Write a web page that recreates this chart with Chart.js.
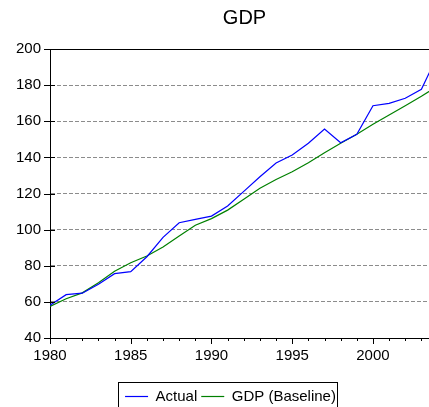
<!DOCTYPE html>
<html>
<head>
<meta charset="utf-8">
<script src="https://cdn.jsdelivr.net/npm/chart.js@4"></script>
<style>
  html, body { margin: 0; padding: 0; background: #fff; }
  #wrap { width: 429px; height: 407px; }
</style>
</head>
<body>
<div id="wrap"><canvas id="gdpchart"></canvas></div>
<script>
// data (last point lies just past the right edge)
const years = [1980, 1981, 1982, 1983, 1984, 1985, 1986, 1987, 1988, 1989, 1990, 1991,
  1992, 1993, 1994, 1995, 1996, 1997, 1998, 1999, 2000, 2001, 2002, 2003, 2004];
const actual = [58.2, 64.0, 64.8, 69.7, 75.6, 76.7, 85.0, 95.7, 103.8, 105.7, 107.5, 113.1,
  121.2, 129.3, 136.9, 141.3, 147.8, 155.7, 148.1, 152.8, 168.6, 169.9, 172.7, 177.7, 196.4];
const baseline = [57.5, 61.7, 65.0, 70.6, 77.0, 81.7, 85.4, 90.4, 96.5, 102.4, 106.1, 110.8,
  116.8, 122.9, 127.8, 132.0, 137.0, 142.6, 147.8, 152.8, 158.3, 163.5, 168.6, 173.8, 179.4];
const seriesNames = ['Actual', 'GDP (Baseline)'];
const chartTitle = 'GDP';

const FONT = 'Liberation Sans, Arial, sans-serif';

// the original was cropped on the right and bottom, so title and legend sit off centre
const frame = {
  id: 'frame',
  afterLayout(chart) {
    chart.titleBlock.left += 30; chart.titleBlock.right += 30;
    chart.legend.left += 16; chart.legend.right += 16;
  },
  afterDraw(chart) {
    const ctx = chart.ctx, ca = chart.chartArea;
    const xs = chart.scales.x, ys = chart.scales.y;
    ctx.save();
    ctx.strokeStyle = '#000';
    ctx.lineWidth = 1;
    ctx.beginPath();
    // top border
    ctx.moveTo(ca.left, Math.round(ca.top) + 0.5);
    ctx.lineTo(ca.right, Math.round(ca.top) + 0.5);
    // y ticks crossing the axis
    ys.ticks.forEach(t => {
      const y = Math.round(ys.getPixelForValue(t.value)) + 0.5;
      ctx.moveTo(ca.left - 6, y);
      ctx.lineTo(ca.left + 5, y);
    });
    // yearly ticks, longer every five years
    for (let yr = Math.ceil(xs.min); yr <= xs.max; yr++) {
      const x = Math.round(xs.getPixelForValue(yr)) + 0.5;
      ctx.moveTo(x, ca.bottom);
      ctx.lineTo(x, ca.bottom + (yr % 5 === 0 ? 6 : 3));
    }
    ctx.stroke();
    // legend frame
    const hb = chart.legend.legendHitBoxes;
    if (hb && hb.length) {
      const first = hb[0], last = hb[hb.length - 1];
      const l = Math.round(first.left - 7) + 0.5;
      const r = Math.round(last.left + last.width + 1) + 0.5;
      const t = Math.round(first.top - 7) + 0.5;
      const b = Math.round(first.top + first.height + 5) + 0.5;
      ctx.strokeRect(l, t, r - l, b - t);
    }
    ctx.restore();
  }
};

new Chart(document.getElementById('gdpchart'), {
  type: 'line',
  plugins: [frame],
  data: {
    labels: years,
    datasets: [
      {
        label: seriesNames[0],
        data: years.map((yr, i) => ({ x: yr, y: actual[i] })),
        borderColor: '#0000ff',
        backgroundColor: '#0000ff',
        borderWidth: 1.2,
        pointRadius: 0,
        tension: 0,
        fill: false,
      },
      {
        label: seriesNames[1],
        data: years.map((yr, i) => ({ x: yr, y: baseline[i] })),
        borderColor: '#008000',
        backgroundColor: '#008000',
        borderWidth: 1.2,
        pointRadius: 0,
        tension: 0,
        fill: false,
      }
    ]
  },
  options: {
    responsive: true,
    maintainAspectRatio: false,
    animation: false,
    layout: {
      padding: { left: 0, right: 0, top: 0, bottom: -7 }
    },
    plugins: {
      title: {
        display: true,
        text: chartTitle,
        color: '#000',
        font: { family: FONT, size: 20, weight: 'normal' },
        padding: { top: 6, bottom: 19 },
      },
      legend: {
        display: true,
        position: 'bottom',
        labels: {
          color: '#000',
          font: { family: FONT, size: 15 },
          usePointStyle: true,
          pointStyle: 'line',
          pointStyleWidth: 23,
          padding: 4,
        }
      },
      tooltip: {
        enabled: false,
      }
    },
    scales: {
      x: {
        type: 'linear',
        min: 1980,
        max: 2003.47,
        afterBuildTicks: function (scale) {
          scale.ticks = scale.ticks.filter(t => t.value % 5 === 0);
        },
        afterFit: function (scale) {
          scale.height = 47;
        },
        ticks: {
          stepSize: 5,
          autoSkip: false,
          includeBounds: false,
          color: '#000',
          padding: 9,
          maxRotation: 0,
          font: { family: FONT, size: 15 },
          callback: function (v) { return String(v); }
        },
        grid: {
          display: false,
          drawTicks: false,
        },
        border: {
          display: true,
          color: '#000',
          width: 1,
        }
      },
      y: {
        min: 40,
        max: 200,
        afterFit: function (scale) {
          scale.width = 50;
        },
        ticks: {
          stepSize: 20,
          color: '#000',
          padding: 9,
          font: { family: FONT, size: 15 },
        },
        grid: {
          drawTicks: false,
          color: function (context) {
            const v = context.tick && context.tick.value;
            return (v === 200 || v === 40) ? 'rgba(0,0,0,0)' : '#8c8c8c';
          },
          lineWidth: 1,
        },
        border: {
          display: true,
          color: '#000',
          width: 1,
          dash: [4, 2],
        }
      }
    }
  }
});
</script>
</body>
</html>
